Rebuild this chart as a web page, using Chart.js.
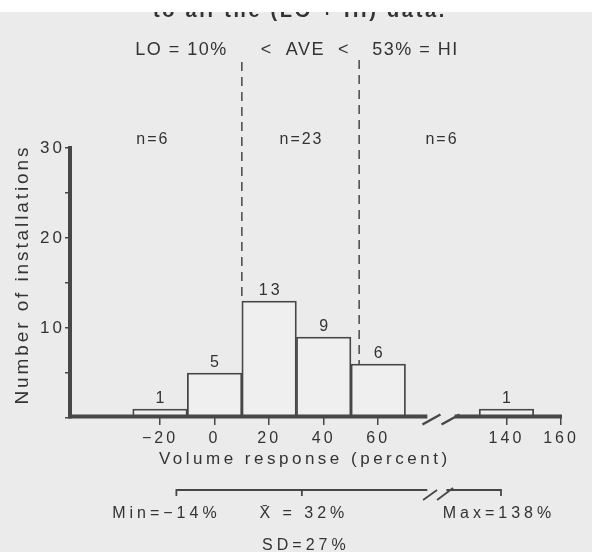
<!DOCTYPE html>
<html>
<head>
<meta charset="utf-8">
<script src="https://cdn.jsdelivr.net/npm/chart.js@4.4.0/dist/chart.umd.min.js"></script>
<style>
  html, body { margin: 0; padding: 0; background: #ebebeb; }
  canvas { display: block; }
</style>
</head>
<body>
<canvas id="histChart" width="592" height="552"></canvas>
<script>
// Histogram: bin centres (percent, 20-point bins) and number of installations
var binCenters = [-20, 0, 20, 40, 60, 140];
var binCounts = [1, 5, 13, 9, 6, 1];
var xTickValues = [-20, 0, 20, 40, 60, 140, 160];
var yTickStep = 5;

// LO / HI cut points and group sizes
var cutValues = [10, 53];
var cutLabels = ['LO = 10%', '<  AVE  <', '53% = HI'];
var groupLabels = ['n=6', 'n=23', 'n=6'];

// summary line under the axis
var statMin = -14, statMean = 32, statMax = 138;
var statLabels = ['Min=\u221214%', 'X\u0304 = 32%', 'Max=138%', 'SD=27%'];

// broken axis: everything past the break is pulled 33 points to the left
var breakAfter = 80;
var breakShift = 33;
function toAxis(v) { return v > breakAfter ? v - breakShift : v; }
function fromAxis(v) { return v > breakAfter ? v + breakShift : v; }

var ink = '#333333';
var lineInk = '#474747';
var fam = '"Liberation Sans", Arial, sans-serif';

function txt(ctx, s, x, y, size, spacing, align, weight) {
    ctx.save();
    ctx.font = (weight || 'normal') + ' ' + size + 'px ' + fam;
    ctx.letterSpacing = spacing + 'px';
    ctx.fillStyle = ink;
    ctx.textAlign = align || 'center';
    ctx.textBaseline = 'alphabetic';
    var dx = align === 'left' ? 0 : (align === 'right' ? spacing : spacing / 2);
    ctx.fillText(s, x + dx, y);
    ctx.restore();
}

function line(ctx, x1, y1, x2, y2, w) {
    ctx.beginPath();
    ctx.lineWidth = w;
    ctx.moveTo(x1, y1);
    ctx.lineTo(x2, y2);
    ctx.stroke();
}

// everything the library has no element for: broken x axis, cut lines, texts
var annotations = {
    id: 'annotations',
    beforeDraw: function (chart) {
        chart.ctx.letterSpacing = '3px';
    },
    afterDatasetsDraw: function (chart) {
        var ctx = chart.ctx;
        var xs = chart.scales.x, ys = chart.scales.y;
        var area = chart.chartArea;
        var px = function (v) { return xs.getPixelForValue(v); };

        // bar counts
        var meta = chart.getDatasetMeta(0);
        meta.data.forEach(function (bar, i) {
            txt(ctx, String(binCounts[i]), bar.x, bar.y - 6.5, 16, 3);
        });

        ctx.save();
        ctx.strokeStyle = lineInk;
        // x axis with a break
        var ay = area.bottom - 1.5;
        line(ctx, area.left - 2, ay, px(78), ay, 4);
        line(ctx, px(88), ay, area.right + 1, ay, 4);
        line(ctx, px(79.5) - 9, ay + 8, px(79.5) + 9, ay - 2, 2.5);
        line(ctx, px(86.5) - 9, ay + 8, px(86.5) + 9, ay - 2, 2.5);

        // dashed LO / HI lines, down to the top of the bar they fall in
        ctx.setLineDash([9, 6]);
        cutValues.forEach(function (v, k) {
            var top = 0;
            binCenters.forEach(function (c, i) {
                if (Math.abs(c - v) <= 10) top = Math.max(top, binCounts[i]);
            });
            var x = px(toAxis(v));
            line(ctx, x, k === 0 ? 62 : 60, x, ys.getPixelForValue(top), 1.5);
        });
        ctx.setLineDash([]);

        // range line: min .. mean .. max
        var ry = 490;
        line(ctx, px(statMin), ry, px(78), ry, 1.8);
        line(ctx, px(85), ry, px(toAxis(statMax)), ry, 1.8);
        line(ctx, px(79) - 7, ry + 10, px(79) + 7, ry, 1.8);
        line(ctx, px(84.5) - 8, ry + 10, px(84.5) + 8, ry - 2, 1.8);
        [statMin, statMean, toAxis(statMax)].forEach(function (v) {
            line(ctx, px(v), ry - 0.9, px(v), ry + 6, 1.8);
        });
        ctx.restore();

        // header texts
        txt(ctx, cutLabels[0], px(-12.4), 55, 18, 1.5);
        txt(ctx, cutLabels[1], px(33), 55, 18, 1.5);
        txt(ctx, cutLabels[2], px(73.4), 55, 18, 1.5);
        txt(ctx, groupLabels[0], px(-23), 144, 16, 2);
        txt(ctx, groupLabels[1], px(31.5), 144, 16, 2);
        txt(ctx, groupLabels[2], px(83), 144, 16, 2);

        // axis titles
        txt(ctx, 'Volume response (percent)', 303, 464, 17, 3.5);
        ctx.save();
        ctx.translate(27.5, 276);
        ctx.rotate(-Math.PI / 2);
        txt(ctx, 'Number of installations', 0, 0, 19, 2.9);
        ctx.restore();

        // summary labels
        txt(ctx, statLabels[0], px(statMin) - 12, 518, 16, 4);
        txt(ctx, statLabels[1], px(statMean), 518, 16, 4);
        txt(ctx, statLabels[2], px(toAxis(statMax)) - 4, 518, 16, 4);
        txt(ctx, statLabels[3], px(statMean) + 2, 550, 16, 4);

        // cut-off line of the caption above, clipped by the page edge
        txt(ctx, 'to all the (LO + HI) data.', 153, 17, 20, 2.7, 'left', 'bold');
        ctx.save();
        ctx.fillStyle = '#ffffff';
        ctx.fillRect(0, 0, chart.width, 12);
        ctx.restore();
    }
};

var ctxHist = document.getElementById('histChart').getContext('2d');
var histChart = new Chart(ctxHist, {
    type: 'bar',
    data: {
        datasets: [{
            data: binCenters.map(function (c, i) { return { x: toAxis(c), y: binCounts[i] }; }),
            backgroundColor: '#efefef',
            borderColor: lineInk,
            borderWidth: 1.8,
            barPercentage: 1,
            categoryPercentage: 1
        }]
    },
    options: {
        responsive: false,
        animation: false,
        layout: { padding: { left: 0, right: 31, top: 148, bottom: 0 } },
        plugins: { legend: { display: false }, tooltip: { enabled: false } },
        scales: {
            x: {
                type: 'linear',
                min: -53,
                max: 127,
                offset: false,
                grid: { drawOnChartArea: false, tickLength: 7, color: lineInk, lineWidth: 1.5, offset: false },
                border: { display: false },
                ticks: {
                    autoSkip: false,
                    maxRotation: 0,
                    padding: 4,
                    color: ink,
                    font: { family: fam, size: 16 },
                    callback: function (v) {
                        var a = fromAxis(v);
                        return a < 0 ? '\u2212' + (-a) : String(a);
                    }
                },
                afterBuildTicks: function (scale) {
                    scale.ticks = xTickValues.map(function (v) { return { value: toAxis(v) }; });
                },
                afterFit: function (scale) { scale.height = 552 - 418; }
            },
            y: {
                min: 0,
                max: 30,
                grid: { drawOnChartArea: false, tickLength: 5, color: lineInk, lineWidth: 1.5 },
                border: { display: true, width: 4, color: lineInk },
                ticks: {
                    stepSize: yTickStep,
                    padding: 0,
                    color: ink,
                    font: { family: fam, size: 17 },
                    callback: function (v) { return (v > 0 && v % 10 === 0) ? String(v) : ''; }
                },
                afterFit: function (scale) { scale.width = 70; }
            }
        }
    },
    plugins: [annotations]
});
</script>
</body>
</html>
